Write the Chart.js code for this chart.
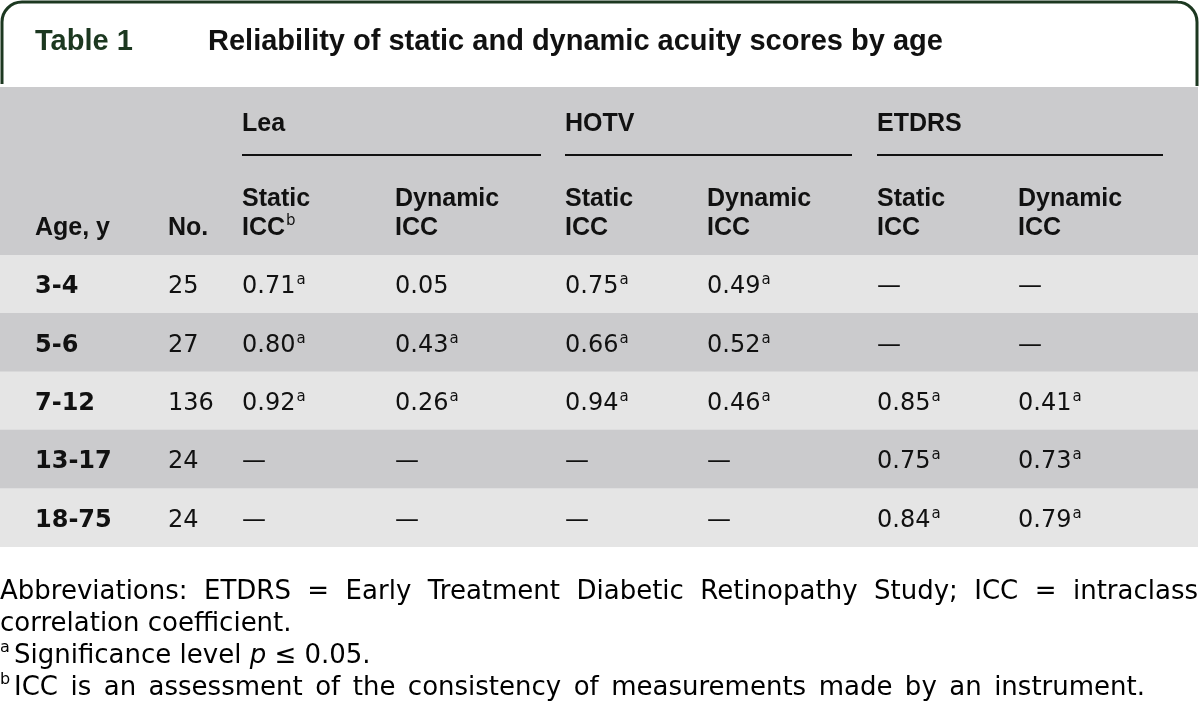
<!DOCTYPE html>
<html>
<head>
<meta charset="utf-8">
<title>Table 1</title>
<script src="https://cdn.jsdelivr.net/npm/chart.js@4.4.1/dist/chart.umd.min.js"></script>
<style>
html,body{margin:0;padding:0;background:#fff}
#wrap{width:1200px;height:721px;position:relative}
</style>
</head>
<body>
<div id="wrap"><canvas id="tbl" width="1200" height="721"></canvas></div>
<script>
const ageGroups=['3-4','5-6','7-12','13-17','18-75'];
const counts=[25,27,136,24,24];
const leaStatic=[0.71,0.80,0.92,null,null];
const leaDynamic=[0.05,0.43,0.26,null,null];
const hotvStatic=[0.75,0.66,0.94,null,null];
const hotvDynamic=[0.49,0.52,0.46,null,null];
const etdrsStatic=[null,null,0.85,0.75,0.84];
const etdrsDynamic=[null,null,0.41,0.73,0.79];
// p <= 0.05 flags (superscript a)
const leaStaticSig=[1,1,1,0,0];
const leaDynamicSig=[0,1,1,0,0];
const hotvStaticSig=[1,1,1,0,0];
const hotvDynamicSig=[1,1,1,0,0];
const etdrsStaticSig=[0,0,1,1,1];
const etdrsDynamicSig=[0,0,1,1,1];
const testNames=['Lea','HOTV','ETDRS'];

const titleLabel='Table 1';
const titleText='Reliability of static and dynamic acuity scores by age';
const footAbbrev='Abbreviations: ETDRS = Early Treatment Diabetic Retinopathy Study; ICC = intraclass';
const footAbbrev2='correlation coefficient.';
const footIcc='ICC is an assessment of the consistency of measurements made by an instrument.';

// layout
const W=1198;
const colX=[35,168,242,395,565,707,877,1018];
const groupSpan=[[242,541],[565,852],[877,1163]];
const GREEN='#1c3820';
const HEAD_BG='#cbcbcd', ROW_A='#e5e5e5', ROW_B='#cbcbcd';
const F_HEAD='bold 25px "Liberation Sans", Arial, sans-serif';
const F_AGE='bold 24px "DejaVu Sans", sans-serif';
const F_CELL='24px "DejaVu Sans", sans-serif';
const F_SUP='15px "DejaVu Sans", sans-serif';
const F_FOOT='26px "DejaVu Sans", sans-serif';
const F_FOOT_I='oblique 26px "DejaVu Sans", sans-serif';
const F_FOOT_SUP='16px "DejaVu Sans", sans-serif';

const columns=[
  {vals:leaStatic,sig:leaStaticSig},
  {vals:leaDynamic,sig:leaDynamicSig},
  {vals:hotvStatic,sig:hotvStaticSig},
  {vals:hotvDynamic,sig:hotvDynamicSig},
  {vals:etdrsStatic,sig:etdrsStaticSig},
  {vals:etdrsDynamic,sig:etdrsDynamicSig}
];

function withSup(ctx,x,y,txt,font,sup,supFont,rise){
  ctx.font=font;ctx.fillText(txt,x,y);
  if(!sup) return;
  const w=ctx.measureText(txt).width;
  ctx.font=supFont;ctx.fillText(sup,x+w+1,y-rise);
}

// words: [{t,font}], spread so the run ends at x+width
function spread(ctx,words,x,y,width){
  const ws=words.map(w=>{ctx.font=w.font;return ctx.measureText(w.t).width;});
  const sum=ws.reduce((s,v)=>s+v,0);
  const gap=(width-sum)/(words.length-1);
  let cx=x;
  words.forEach((w,i)=>{ctx.font=w.font;ctx.fillText(w.t,cx,y);cx+=ws[i]+gap;});
}
const plain=(s,f)=>s.split(' ').map(t=>({t,font:f}));

const tablePlugin={
  id:'tablePlugin',
  beforeDatasetsDraw(chart){
    const ctx=chart.ctx, area=chart.chartArea;
    ctx.save();
    // header band
    ctx.fillStyle=HEAD_BG;
    ctx.fillRect(0,87,W,area.top-87);
    // title frame
    ctx.strokeStyle=GREEN;ctx.lineWidth=3;
    ctx.beginPath();
    ctx.moveTo(2,84);ctx.lineTo(2,22);
    ctx.arcTo(2,2,22,2,20);
    ctx.lineTo(W-20,2);
    ctx.arcTo(W-1,2,W-1,22,20);
    ctx.lineTo(W-1,86);
    ctx.stroke();
    ctx.restore();
  },
  afterDatasetsDraw(chart){
    const ctx=chart.ctx, y=chart.scales.y;
    ctx.save();
    ctx.textBaseline='alphabetic';ctx.textAlign='left';
    // title
    ctx.fillStyle=GREEN;ctx.font='bold 29px "Liberation Sans", Arial, sans-serif';
    ctx.fillText(titleLabel,35,50);
    ctx.fillStyle='#111';
    ctx.fillText(titleText,208,50);
    // header
    ctx.font=F_HEAD;
    testNames.forEach((n,i)=>{
      ctx.fillText(n,groupSpan[i][0],131);
      ctx.fillRect(groupSpan[i][0],154,groupSpan[i][1]-groupSpan[i][0],2);
    });
    ctx.fillText('Age, y',colX[0],235);
    ctx.fillText('No.',colX[1],235);
    columns.forEach((c,i)=>{
      const x=colX[i+2];
      ctx.font=F_HEAD;
      ctx.fillText(i%2?'Dynamic':'Static',x,206);
      withSup(ctx,x,235,'ICC',F_HEAD,i===0?'b':'',F_SUP,10);
    });
    // body
    ageGroups.forEach((a,r)=>{
      const by=y.getPixelForValue(r)+9;
      ctx.font=F_AGE;ctx.fillText(a,colX[0],by);
      ctx.font=F_CELL;ctx.fillText(String(counts[r]),colX[1],by);
      columns.forEach((c,i)=>{
        const v=c.vals[r];
        const txt=v==null?'\u2014':v.toFixed(2);
        withSup(ctx,colX[i+2],by,txt,F_CELL,c.sig[r]?'a':'',F_SUP,9);
      });
    });
    // footnotes
    ctx.fillStyle='#000';
    spread(ctx,plain(footAbbrev,F_FOOT),0,599,W);
    ctx.font=F_FOOT;ctx.fillText(footAbbrev2,0,631);
    ctx.font=F_FOOT_SUP;ctx.fillText('a',0,652);
    let fx=14;
    ctx.font=F_FOOT;ctx.fillText('Significance level ',fx,663);fx+=ctx.measureText('Significance level ').width;
    ctx.font=F_FOOT_I;ctx.fillText('p',fx,663);fx+=ctx.measureText('p').width;
    ctx.font=F_FOOT;ctx.fillText(' \u2264 0.05.',fx,663);
    ctx.font=F_FOOT_SUP;ctx.fillText('b',0,684);
    spread(ctx,plain(footIcc,F_FOOT),14,695,1131);
    ctx.restore();
  }
};

new Chart(document.getElementById('tbl'),{
  type:'bar',
  data:{
    labels:ageGroups,
    datasets:[{
      data:ageGroups.map(()=>[0,W]),
      backgroundColor:ageGroups.map((_,i)=>i%2?ROW_B:ROW_A),
      borderWidth:0,
      barPercentage:1,
      categoryPercentage:1
    }]
  },
  options:{
    indexAxis:'y',
    responsive:false,
    animation:false,
    layout:{padding:{top:255,bottom:174,left:0,right:2}},
    plugins:{legend:{display:false},tooltip:{enabled:false}},
    scales:{
      x:{type:'linear',min:0,max:W,display:false},
      y:{type:'category',display:false,grid:{display:false}}
    }
  },
  plugins:[tablePlugin]
});
</script>
</body>
</html>
